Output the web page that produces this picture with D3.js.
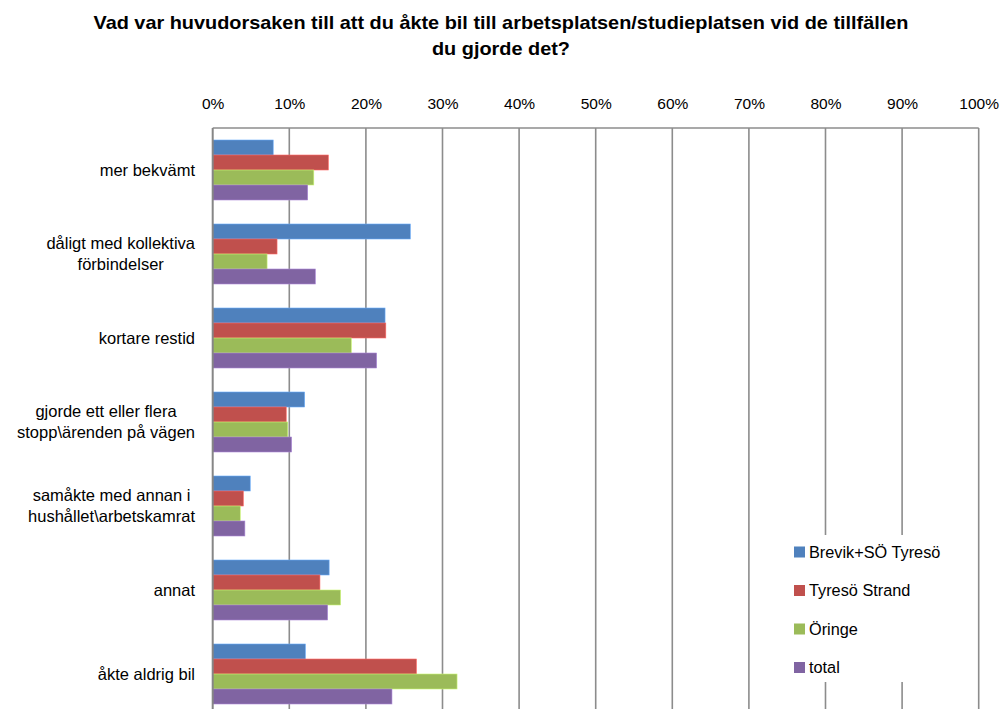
<!DOCTYPE html>
<html>
<head>
<meta charset="utf-8">
<script src="https://cdn.jsdelivr.net/npm/d3@7/dist/d3.min.js"></script>
<style>
  body { margin: 0; background: #fff; }
  text { font-family: "Liberation Sans", Arial, sans-serif; fill: #000; }
</style>
</head>
<body>
<script>
// chart data
var titleLines = ["Vad var huvudorsaken till att du åkte bil till arbetsplatsen/studieplatsen vid de tillfällen", "du gjorde det?"];
var categories = ["mer bekvämt", "dåligt med kollektiva\nförbindelser", "kortare restid",
                  "gjorde ett eller flera\nstopp\\ärenden på vägen", "samåkte med annan i\nhushållet\\arbetskamrat",
                  "annat", "åkte aldrig bil"];
var seriesNames = ["Brevik+SÖ Tyresö", "Tyresö Strand", "Öringe", "total"];
var brevik = [7.9, 25.8, 22.5, 12.0, 4.9, 15.2, 12.1];
var strand = [15.1, 8.4, 22.6, 9.6, 4.0, 14.0, 26.6];
var oringe = [13.2, 7.1, 18.1, 9.8, 3.6, 16.7, 31.9];
var total = [12.4, 13.4, 21.4, 10.3, 4.2, 15.0, 23.4];
var tickValues = [0, 10, 20, 30, 40, 50, 60, 70, 80, 90, 100];
var colors = ["#4F81BD", "#C0504D", "#9BBB59", "#8064A2"];

var allSeries = [brevik, strand, oringe, total];

var width = 1002, height = 709;
var plot = {left: 212.7, right: 978.7, top: 128, bottom: 716};

var svg = d3.select("body").append("svg")
            .attr("width", width)
            .attr("height", height);

// title, squeezed to the width of the original (narrow font there)
var title = svg.append("g");
var ratio = 1;
titleLines.forEach(function(line, i) {
  var t = title.append("text")
     .attr("x", 501)
     .attr("y", 29 + i * 26)
     .attr("text-anchor", "middle")
     .style("font-weight", "bold")
     .style("font-size", "18.5px")
     .text(line);
  var w = t.node().getComputedTextLength();
  if (i == 0) ratio = 815 / w;
  t.attr("textLength", w * ratio).attr("lengthAdjust", "spacingAndGlyphs");
});

// scales
var xScale = d3.scaleLinear()
               .domain([0, 100])
               .range([plot.left, plot.right]);

var yScale = d3.scaleBand()
               .domain(categories)
               .range([plot.top, plot.bottom])
               .paddingInner(24 / 84)
               .paddingOuter(12 / 84);

var ySub = d3.scaleBand()
             .domain(d3.range(seriesNames.length))
             .range([0, yScale.bandwidth()]);

// gridlines
svg.append("g")
   .selectAll("line")
   .data(tickValues.slice(1))
   .enter()
   .append("line")
   .attr("x1", function(d) { return xScale(d); })
   .attr("x2", function(d) { return xScale(d); })
   .attr("y1", plot.top)
   .attr("y2", height)
   .attr("stroke", "#8c8c8c")
   .attr("stroke-width", 1.6);

// top border
svg.append("line")
   .attr("x1", plot.left).attr("x2", plot.right)
   .attr("y1", plot.top).attr("y2", plot.top)
   .attr("stroke", "#8c8c8c")
   .attr("stroke-width", 1.6);

// top axis labels
var xAxis = d3.axisTop(xScale)
              .tickValues(tickValues)
              .tickSize(0)
              .tickPadding(0)
              .tickFormat(function(d) { return d + "%"; });

var axisG = svg.append("g")
               .attr("transform", "translate(0,109)")
               .call(xAxis);
axisG.select(".domain").remove();
axisG.selectAll("text")
     .style("font-family", "'Liberation Sans', Arial, sans-serif")
     .style("font-size", "15.5px")
     .attr("fill", "#000");

// bars
var groups = svg.selectAll(".group")
                .data(categories)
                .enter()
                .append("g")
                .attr("class", "group")
                .attr("transform", function(d) { return "translate(0," + yScale(d) + ")"; });

groups.selectAll("rect")
      .data(function(d, i) {
        return allSeries.map(function(s, j) { return {series: j, value: s[i]}; });
      })
      .enter()
      .append("rect")
      .attr("x", xScale(0))
      .attr("y", function(d) { return ySub(d.series); })
      .attr("width", function(d) { return xScale(d.value) - xScale(0); })
      .attr("height", ySub.bandwidth())
      .attr("fill", function(d) { return colors[d.series]; })
      .attr("stroke", function(d) { return d3.color(colors[d.series]).brighter(0.8); })
      .attr("stroke-width", 0.6);

// left axis line
svg.append("line")
   .attr("x1", plot.left).attr("x2", plot.left)
   .attr("y1", plot.top).attr("y2", height)
   .attr("stroke", "#868686")
   .attr("stroke-width", 2);

// category labels
categories.forEach(function(cat) {
  var lines = cat.split("\n");
  var cy = yScale(cat) + yScale.bandwidth() / 2;
  var g = svg.append("g");
  var texts = lines.map(function(line, i) {
    return g.append("text")
            .attr("y", cy + (i - (lines.length - 1) / 2) * 21)
            .attr("dy", "0.35em")
            .style("font-size", "16.5px")
            .text(line);
  });
  var maxW = d3.max(texts, function(t) { return t.node().getComputedTextLength(); });
  texts.forEach(function(t) {
    t.attr("x", 195 - maxW / 2).attr("text-anchor", "middle");
  });
});

// legend
var legend = svg.append("g");
legend.append("rect")
      .attr("x", 786).attr("y", 535)
      .attr("width", 180).attr("height", 147)
      .attr("fill", "#fff");

var items = legend.selectAll(".legend")
                  .data(seriesNames)
                  .enter()
                  .append("g")
                  .attr("class", "legend")
                  .attr("transform", function(d, i) { return "translate(794," + (552 + i * 38.5) + ")"; });

items.append("rect")
     .attr("x", 0).attr("y", -5.5)
     .attr("width", 11).attr("height", 11)
     .attr("fill", function(d, i) { return colors[i]; });

items.append("text")
     .attr("x", 15)
     .attr("dy", "0.35em")
     .style("font-size", "16.3px")
     .text(function(d) { return d; });
</script>
</body>
</html>
